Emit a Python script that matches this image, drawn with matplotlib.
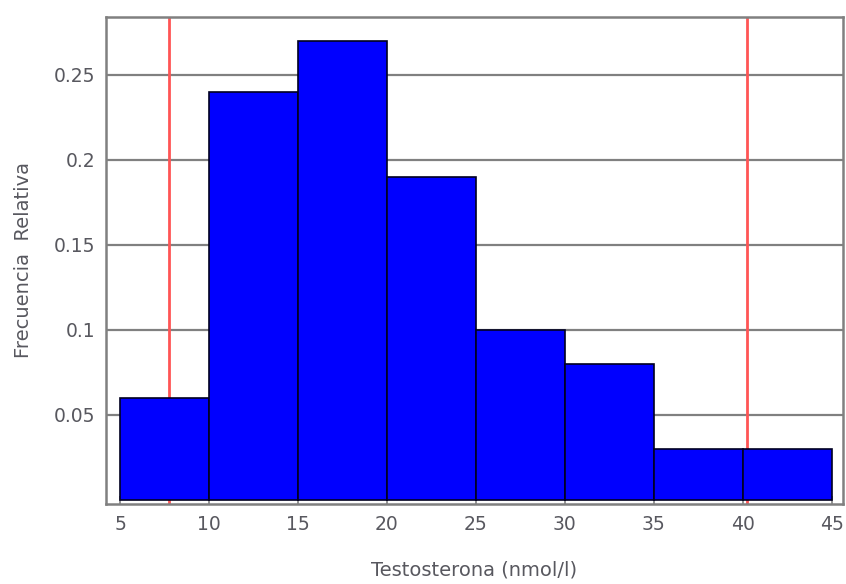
import numpy as np
import matplotlib
matplotlib.use('Agg')
import matplotlib.pyplot as plt

plt.rcParams['font.family'] = ['DejaVu Sans']

bin_edges = [5, 10, 15, 20, 25, 30, 35, 40, 45]
frec_rel = [0.06, 0.24, 0.27, 0.19, 0.10, 0.08, 0.03, 0.03]
limites = [7.77, 40.25]
xticks = [5, 10, 15, 20, 25, 30, 35, 40, 45]
yticks = [0.05, 0.1, 0.15, 0.2, 0.25]
ytick_labels = ['0.05', '0.1', '0.15', '0.2', '0.25']

fig = plt.figure(figsize=(8.46, 5.84), dpi=100)
ax = fig.add_axes([0.1253, 0.137, 0.8712, 0.8339])

edges = np.array(bin_edges)
ax.bar(edges[:-1], frec_rel, width=np.diff(edges), align='edge',
       color='#0000ff', edgecolor='#000020', linewidth=1.2, zorder=3)
for xl in limites:
    ax.axvline(xl, color='#ff5555', linewidth=2, zorder=2)

ax.set_xlim(4.21, 45.64)
ax.set_ylim(-0.0024, 0.2839)
ax.set_xticks(xticks)
ax.set_yticks(yticks)
ax.set_yticklabels(ytick_labels)
ax.grid(axis='y', color='#808080', linewidth=1.6, zorder=1)
ax.set_axisbelow(True)
ax.tick_params(direction='in', length=6, width=1.2, color='#808080',
               labelsize=13.5, labelcolor='#58585f', pad=8)
for s in ax.spines.values():
    s.set_color('#808080')
    s.set_linewidth(1.8)

ax.set_xlabel('Testosterona (nmol/l)', fontsize=14, color='#58585f', labelpad=19)
ax.set_ylabel('Frecuencia  Relativa', fontsize=14, color='#58585f', labelpad=15)

plt.savefig('out.png', dpi=100)
plt.close(fig)
